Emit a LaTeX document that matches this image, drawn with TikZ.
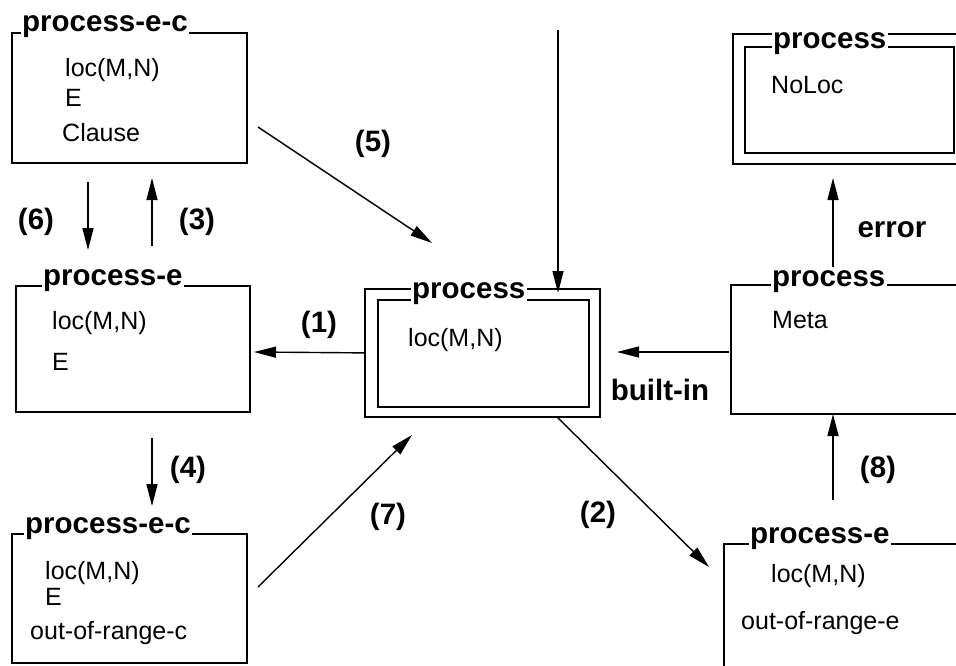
\documentclass[tikz,border=0pt]{standalone}
\usepackage{fontspec}
\setmainfont{Liberation Sans}
\usetikzlibrary{arrows.meta}
\begin{document}
\begin{tikzpicture}[x=1pt,y=-1pt,
  box/.style={draw, line width=1.8pt, rectangle, inner sep=0pt, anchor=north west},
  title/.style={fill=white, inner xsep=1.5pt, inner ysep=0pt, text height=22pt, text depth=6pt,
    anchor=base west, font=\fontsize{29.5}{32}\selectfont\bfseries},
  body/.style={inner sep=0pt, anchor=west, font=\fontsize{25}{28}\selectfont},
  lab/.style={inner sep=0pt, font=\fontsize{29.5}{32}\selectfont\bfseries},
  arr/.style={line width=1.4pt, -{Triangle[length=22pt,width=11pt]}}]
\useasboundingbox (0,0) rectangle (956,666);
\clip (0,0) rectangle (956,666);

% boxes
\node[box, minimum width=235pt, minimum height=130pt] (A) at (11,32) {};
\node[box, minimum width=234pt, minimum height=126pt] (B) at (15,285) {};
\node[box, minimum width=235pt, minimum height=129pt] (C) at (11,533) {};
\node[box, minimum width=235pt, minimum height=128pt] (D) at (364,288) {};
\node[box, minimum width=211pt, minimum height=107pt] (Di) at (377,299) {};
\node[box, minimum width=234pt, minimum height=130pt] (N) at (732,33) {};
\node[box, minimum width=209pt, minimum height=106pt] (Ni) at (744,46) {};
\node[box, minimum width=240pt, minimum height=129pt] (M) at (730,284) {};
\node[box, minimum width=247pt, minimum height=140pt] (R) at (723,543) {};

% titles
\node[title] (tA) at (20.5,32) {process-e-c};
\node[title] (tB) at (41.5,285) {process-e};
\node[title] (tC) at (23.5,533) {process-e-c};
\node[title] (tD) at (410.5,298) {process};
\node[title] (tN) at (771.5,49) {process};
\node[title] (tM) at (770.5,286) {process};
\node[title] (tR) at (748.5,543) {process-e};

% contents
\node[body] (A1) at (65,70) {loc(M,N)};
\node[body] (A2) at (65,98) {E};
\node[body] (A3) at (62,133) {Clause};
\node[body] (B1) at (52,323) {loc(M,N)};
\node[body] (B2) at (52,362) {E};
\node[body] (C1) at (45,573) {loc(M,N)};
\node[body] (C2) at (45,597) {E};
\node[body] (C3) at (30,633) {out-of-range-c};
\node[body] (D1) at (408,340) {loc(M,N)};
\node[body] (N1) at (771,85) {NoLoc};
\node[body] (M1) at (772,320) {Meta};
\node[body] (R1) at (771,576) {loc(M,N)};
\node[body] (R2) at (741,623) {out-of-range-e};

% connector ends
\coordinate (s5) at (258,127);  \coordinate (e5) at (432,243);
\coordinate (stop) at (558,30); \coordinate (etop) at (558,293);
\coordinate (s6) at (88,182);   \coordinate (e6) at (88,250);
\coordinate (s3) at (152,246);  \coordinate (e3) at (152,178);
\coordinate (e1) at (254,352);
\coordinate (sbi) at (729,352); \coordinate (ebi) at (617,352);
\coordinate (serr) at (833,267);\coordinate (eerr) at (833,178);
\coordinate (s4) at (152,438);  \coordinate (e4) at (152,506);
\coordinate (s7) at (258,587);  \coordinate (e7) at (412,435);
\coordinate (s2) at (557,417);  \coordinate (e2) at (709,567);
\coordinate (s8) at (833,500);  \coordinate (e8) at (833,414);

% connectors
\draw[arr] (s5) -- (e5);
\draw[arr] (stop) -- (etop);
\draw[arr] (s6) -- (e6);
\draw[arr] (s3) -- (e3);
\draw[arr] (D.west) -- (e1);
\draw[arr] (sbi) -- (ebi);
\draw[arr] (serr) -- (eerr);
\draw[arr] (s4) -- (e4);
\draw[arr] (s7) -- (e7);
\draw[arr] (s2) -- (e2);
\draw[arr] (s8) -- (e8);

% labels
\node[lab] (l5) at (373,144) {(5)};
\node[lab] (l6) at (36,222) {(6)};
\node[lab] (l3) at (197,222) {(3)};
\node[lab] (l1) at (319,325) {(1)};
\node[lab] (lbi) at (660,390) {built-in};
\node[lab] (lerr) at (892,230) {error};
\node[lab] (l4) at (188,470) {(4)};
\node[lab] (l7) at (388,517) {(7)};
\node[lab] (l2) at (598,515) {(2)};
\node[lab] (l8) at (878,470) {(8)};
\end{tikzpicture}
\end{document}
